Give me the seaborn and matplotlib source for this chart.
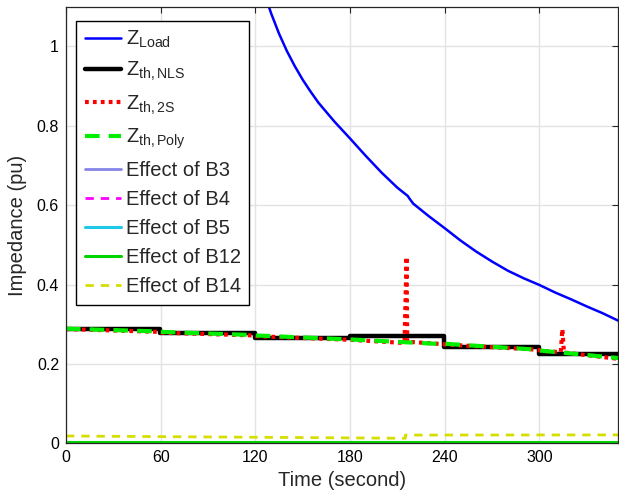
import matplotlib
matplotlib.use("Agg")
import matplotlib.pyplot as plt
import numpy as np
import pandas as pd
import seaborn as sns

# Z_Load (decaying load impedance)
LOAD_T = [126, 130, 135, 140, 145, 150, 155, 160, 170, 180, 190, 200, 210, 216.5, 217.5, 220, 230,
          240, 250, 260, 270, 280, 290, 300, 310, 320, 330, 340, 350]
LOAD_Z = [1.13, 1.083, 1.032, 0.988, 0.950, 0.916, 0.886, 0.858, 0.811, 0.768, 0.724, 0.682, 0.644, 0.6235,
          0.6175, 0.604, 0.572, 0.542, 0.511, 0.483, 0.458, 0.435, 0.416, 0.399, 0.380, 0.363, 0.345,
          0.328, 0.309]

# Thevenin estimate, NLS (stepwise)
NLS_T = [0, 59.5, 59.5, 119.5, 119.5, 180, 180, 239.5, 239.5, 299.5, 299.5, 350]
NLS_Z = [0.288, 0.288, 0.2775, 0.2775, 0.266, 0.266, 0.2705, 0.2705, 0.242, 0.242, 0.2245, 0.2245]

# Thevenin estimate, two-step (with spikes)
TS_T = [0, 59, 60, 119, 121, 180, 214.5, 215.8, 216.2, 217, 239, 241, 299, 301,
        313.5, 314.5, 315.5, 350]
TS_Z = [0.288, 0.281, 0.279, 0.272, 0.270, 0.261, 0.253, 0.470, 0.255, 0.256, 0.250, 0.249, 0.236, 0.233,
        0.230, 0.288, 0.229, 0.213]

# Thevenin estimate, polynomial
POLY_T = [0, 59, 60, 119, 120, 179, 180, 239, 240, 299, 300, 350]
POLY_Z = [0.289, 0.282, 0.281, 0.273, 0.272, 0.262, 0.262, 0.250, 0.251, 0.236, 0.234, 0.215]

# bus effects
EFF_T = [0, 350]
B3_Z = [0.0, 0.0]
B4_Z = [0.0, 0.0]
B5_Z = [0.0, 0.0]
B12_Z = [0.0035, 0.0035]
B14_T = [0, 215, 215, 350]
B14_Z = [0.0187, 0.0130, 0.0210, 0.0215]

X_TICKS = [0, 60, 120, 180, 240, 300]
Y_TICKS = [0, 0.2, 0.4, 0.6, 0.8, 1.0]
Y_LABELS = ["0", "0.2", "0.4", "0.6", "0.8", "1"]

sns.set_theme(style="whitegrid")
plt.rcParams.update({
    "font.family": ["Liberation Sans", "DejaVu Sans"],
    "mathtext.fontset": "custom",
    "mathtext.rm": "Liberation Sans",
    "mathtext.it": "Liberation Sans:italic",
})

fig = plt.figure(figsize=(6.19, 5.04), dpi=100)
ax = fig.add_axes([0.1066, 0.1202, 0.8924, 0.8665])

series = [
    (LOAD_T, LOAD_Z, r"$\mathrm{Z}_{\mathrm{Load}}$", "#0000FF", 1.8, "-"),
    (NLS_T, NLS_Z, r"$\mathrm{Z}_{\mathrm{th,NLS}}$", "#000000", 3.2, "-"),
    (TS_T, TS_Z, r"$\mathrm{Z}_{\mathrm{th,2S}}$", "#FF0000", 3.0, (0, (0.9, 1.0))),
    (POLY_T, POLY_Z, r"$\mathrm{Z}_{\mathrm{th,Poly}}$", "#00EE00", 3.0, (0, (3.5, 2.2))),
    (EFF_T, B3_Z, "Effect of B3", "#8585E8", 2.0, "-"),
    (EFF_T, B4_Z, "Effect of B4", "#FF00FF", 2.0, (0, (3.0, 2.5))),
    (EFF_T, B5_Z, "Effect of B5", "#1FC8E6", 2.2, "-"),
    (EFF_T, B12_Z, "Effect of B12", "#00D400", 2.2, "-"),
    (B14_T, B14_Z, "Effect of B14", "#D6DE00", 2.0, (0, (3.0, 2.5))),
]

for t, z, label, color, lw, ls in series:
    df = pd.DataFrame({"t": t, "z": z})
    sns.lineplot(data=df, x="t", y="z", ax=ax, estimator=None, sort=False,
                 color=color, linewidth=lw, linestyle=ls, label=label)

ax.set_xlim(0, 350)
ax.set_ylim(0, 1.1)
ax.set_xticks(X_TICKS)
ax.set_yticks(Y_TICKS)
ax.set_yticklabels(Y_LABELS)
ax.set_xlabel("Time (second)", fontsize=14.5, labelpad=4)
ax.set_ylabel("Impedance (pu)", fontsize=14.5, labelpad=7)
ax.tick_params(direction="in", top=True, right=True, length=4, width=0.8,
               labelsize=11.5, color="#262626", labelcolor="#000000", pad=5)
ax.grid(True, color="#e3e3e3", linewidth=1.0)
for s in ax.spines.values():
    s.set_color("#262626")
    s.set_linewidth(0.9)

leg = ax.legend(loc="upper left", bbox_to_anchor=(0.019, 0.968), fontsize=14.5,
                frameon=True, fancybox=False, framealpha=1, edgecolor="#000000",
                handlelength=1.8, handletextpad=0.25, labelspacing=0.5,
                borderpad=0.4, borderaxespad=0)
leg.get_frame().set_linewidth(1.0)

fig.savefig("out.png", dpi=100, facecolor="white")
